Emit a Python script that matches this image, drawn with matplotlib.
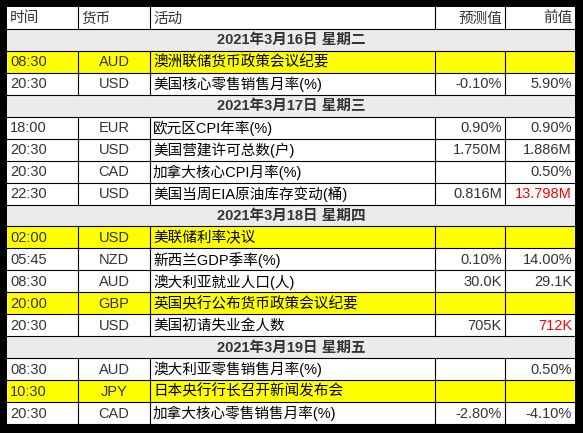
import matplotlib
matplotlib.use("Agg")
import matplotlib.pyplot as plt
from matplotlib.patches import Rectangle

plt.rcParams['font.family'] = ['Liberation Sans', 'Noto Sans CJK SC', 'DejaVu Sans']

headers = ["时间", "货币", "活动", "预测值", "前值"]

day_titles = ["2021年3月16日 星期二", "2021年3月17日 星期三",
              "2021年3月18日 星期四", "2021年3月19日 星期五"]
times = [
    ["08:30", "20:30"],
    ["18:00", "20:30", "20:30", "22:30"],
    ["02:00", "05:45", "08:30", "20:00", "20:30"],
    ["08:30", "10:30", "20:30"],
]
currencies = [
    ["AUD", "USD"],
    ["EUR", "USD", "CAD", "USD"],
    ["USD", "NZD", "AUD", "GBP", "USD"],
    ["AUD", "JPY", "CAD"],
]
events = [
    ["澳洲联储货币政策会议纪要", "美国核心零售销售月率(%)"],
    ["欧元区CPI年率(%)", "美国营建许可总数(户)", "加拿大核心CPI月率(%)", "美国当周EIA原油库存变动(桶)"],
    ["美联储利率决议", "新西兰GDP季率(%)", "澳大利亚就业人口(人)", "英国央行公布货币政策会议纪要", "美国初请失业金人数"],
    ["澳大利亚零售销售月率(%)", "日本央行行长召开新闻发布会", "加拿大核心零售销售月率(%)"],
]
forecasts = [
    ["", "-0.10%"],
    ["0.90%", "1.750M", "", "0.816M"],
    ["", "0.10%", "30.0K", "", "705K"],
    ["", "", "-2.80%"],
]
previous = [
    ["", "5.90%"],
    ["0.90%", "1.886M", "0.50%", "13.798M"],
    ["", "14.00%", "29.1K", "", "712K"],
    ["0.50%", "", "-4.10%"],
]
highlighted = [
    [True, False],
    [False, False, False, False],
    [True, False, False, True, False],
    [False, True, False],
]
prev_red = {"13.798M", "712K"}

W, H = 583, 433
cols = [7, 78, 150, 435, 505, 575]
top, bottom = 7, 424
n_rows = 1 + sum(1 + len(t) for t in times)
rh = (bottom - top) / n_rows

fig = plt.figure(figsize=(W / 100, H / 100), dpi=100)
fig.patch.set_facecolor("black")
ax = fig.add_axes([0, 0, 1, 1])
ax.set_xlim(0, W)
ax.set_ylim(H, 0)
ax.axis("off")
ax.add_patch(Rectangle((0, 0), W, H, color="black"))

fs = 10.5
line_kw = dict(color="black", lw=0.8)


def cell_row(y, bg):
    ax.add_patch(Rectangle((cols[0], y), cols[-1] - cols[0], rh, facecolor=bg, edgecolor="none"))
    ax.plot([cols[0], cols[-1]], [y + rh, y + rh], **line_kw)


def put(i, y, text, align, color="#333333", weight="normal"):
    x0, x1 = cols[i], cols[i + 1]
    if align == "left":
        x, ha = x0 + 3, "left"
    elif align == "right":
        x, ha = x1 - 3, "right"
    else:
        x, ha = (x0 + x1) / 2, "center"
    ax.text(x, y + rh / 2 + 0.5, text, ha=ha, va="center", fontsize=fs, color=color, fontweight=weight)


y = top
cell_row(y, "white")
for i, h in enumerate(headers):
    put(i, y, h, "right" if i >= 3 else "left")
for c in cols[1:-1]:
    ax.plot([c, c], [y, y + rh], **line_kw)
y += rh

for d, title in enumerate(day_titles):
    cell_row(y, "#EBEBEB")
    ax.text((cols[0] + cols[-1]) / 2, y + rh / 2 + 0.5, title, ha="center", va="center",
            fontsize=fs, fontweight="bold", color="#333333")
    y += rh
    for r in range(len(times[d])):
        cell_row(y, "#FFFF00" if highlighted[d][r] else "white")
        put(0, y, times[d][r], "left")
        put(1, y, currencies[d][r], "center")
        put(2, y, events[d][r], "left", color="black")
        put(3, y, forecasts[d][r], "right")
        pv = previous[d][r]
        put(4, y, pv, "right", color="#FF0000" if pv in prev_red else "#333333")
        for c in cols[1:-1]:
            ax.plot([c, c], [y, y + rh], **line_kw)
        y += rh

fig.savefig("out.png", dpi=100, facecolor="black")
